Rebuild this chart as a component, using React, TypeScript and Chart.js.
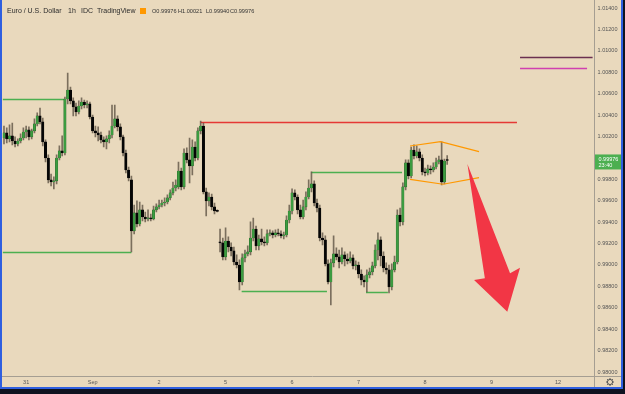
import React, { useEffect, useRef } from 'react';
import { Chart, registerables } from 'chart.js';
Chart.register(...registerables);

// ---- EUR/USD 1h candles (index 0 = Aug 30, 16:00) ----
const opens = [
  1.00186, 1.00233, 1.00177, 1.00205, 1.00158, 1.00130, 1.00158, 1.00186, 1.00242, 1.00261,
  1.00196, 1.00252, 1.00317, 1.00392, 1.00336, 1.00149, 0.99999, 0.99794, 0.99775, 0.99785,
  0.99999, 1.00065, 1.00046, 1.00550, 1.00634, 1.00532, 1.00476, 1.00429, 1.00485, 1.00522,
  1.00494, 1.00504, 1.00382, 1.00252, 1.00233, 1.00214, 1.00168, 1.00149, 1.00177, 1.00214,
  1.00298, 1.00364, 1.00289, 1.00196, 1.00046, 0.99887, 0.99794, 0.99318, 0.99486, 0.99383,
  0.99514, 0.99448, 0.99430, 0.99439, 0.99430, 0.99514, 0.99542, 0.99560, 0.99579, 0.99588,
  0.99626, 0.99673, 0.99719, 0.99729, 0.99878, 0.99729, 1.00046, 0.99981, 0.99925, 1.00102,
  0.99999, 1.00252, 1.00298, 0.99682, 0.99598, 0.99635, 0.99542, 0.99504, 0.99215, 0.99206,
  0.99075, 0.99224, 0.99168, 0.99131, 0.99028, 0.99000, 0.98841, 0.99066, 0.99103, 0.99122,
  0.99252, 0.99336, 0.99178, 0.99243, 0.99215, 0.99206, 0.99290, 0.99299, 0.99280, 0.99299,
  0.99290, 0.99271, 0.99280, 0.99420, 0.99504, 0.99673, 0.99635, 0.99514, 0.99448, 0.99542,
  0.99635, 0.99719, 0.99757, 0.99579, 0.99532, 0.99252, 0.99234, 0.99010, 0.98841, 0.99019,
  0.99103, 0.99075, 0.99028, 0.99094, 0.99056, 0.99038, 0.99066, 0.98991, 0.99000, 0.98916,
  0.98860, 0.98841, 0.98907, 0.98935, 0.98991, 0.99140, 0.99234, 0.99084, 0.98972, 0.98954,
  0.98795, 0.98954, 0.99028, 0.99467, 0.99402, 0.99729, 0.99953, 0.99831, 1.00074, 1.00018,
  1.00056, 0.99999, 0.99869, 0.99859, 0.99897, 0.99887, 0.99915, 0.99962, 0.99981, 0.99775,
  0.99976,
];
const highs = [
  1.00298, 1.00280, 1.00308, 1.00326, 1.00196, 1.00177, 1.00224, 1.00280, 1.00298, 1.00289,
  1.00270, 1.00364, 1.00420, 1.00466, 1.00373, 1.00168, 1.00028, 0.99850, 0.99822, 1.00028,
  1.00112, 1.00205, 1.00569, 1.00793, 1.00662, 1.00560, 1.00513, 1.00532, 1.00560, 1.00541,
  1.00532, 1.00522, 1.00401, 1.00298, 1.00289, 1.00242, 1.00196, 1.00205, 1.00252, 1.00494,
  1.00494, 1.00392, 1.00317, 1.00214, 1.00074, 0.99915, 0.99831, 0.99560, 0.99598, 0.99588,
  0.99560, 0.99495, 0.99514, 0.99476, 0.99551, 0.99570, 0.99607, 0.99607, 0.99626, 0.99654,
  0.99701, 0.99775, 0.99794, 0.99962, 0.99906, 1.00084, 1.00093, 1.00186, 1.00168, 1.00149,
  1.00280, 1.00345, 1.00326, 0.99719, 0.99673, 0.99663, 0.99579, 0.99514, 0.99336, 0.99252,
  0.99346, 0.99262, 0.99206, 0.99168, 0.99094, 0.99047, 0.99103, 0.99140, 0.99178, 0.99402,
  0.99439, 0.99364, 0.99280, 0.99336, 0.99262, 0.99327, 0.99327, 0.99318, 0.99327, 0.99336,
  0.99318, 0.99308, 0.99458, 0.99560, 0.99710, 0.99701, 0.99654, 0.99560, 0.99607, 0.99682,
  0.99794, 0.99869, 0.99785, 0.99616, 0.99560, 0.99299, 0.99271, 0.99047, 0.99056, 0.99271,
  0.99159, 0.99140, 0.99159, 0.99122, 0.99103, 0.99122, 0.99094, 0.99038, 0.99028, 0.98954,
  0.98898, 0.98954, 0.98972, 0.99028, 0.99187, 0.99299, 0.99262, 0.99122, 0.99019, 0.99000,
  0.99010, 0.99084, 0.99514, 0.99532, 0.99766, 0.99981, 0.99981, 1.00102, 1.00121, 1.00112,
  1.00084, 1.00028, 0.99906, 0.99934, 0.99925, 0.99953, 0.99999, 1.00018, 1.00149, 0.99990,
  1.00021,
];
const lows = [
  1.00130, 1.00140, 1.00149, 1.00121, 1.00102, 1.00112, 1.00140, 1.00168, 1.00186, 1.00168,
  1.00177, 1.00233, 1.00298, 1.00317, 1.00112, 0.99962, 0.99766, 0.99738, 0.99710, 0.99757,
  0.99981, 1.00018, 1.00028, 1.00504, 1.00504, 1.00392, 1.00392, 1.00410, 1.00457, 1.00466,
  1.00466, 1.00364, 1.00233, 1.00196, 1.00158, 1.00140, 1.00102, 1.00084, 1.00140, 1.00186,
  1.00280, 1.00252, 1.00168, 1.00018, 0.99859, 0.99785, 0.99122, 0.99290, 0.99355, 0.99364,
  0.99411, 0.99402, 0.99411, 0.99411, 0.99420, 0.99495, 0.99523, 0.99542, 0.99551, 0.99570,
  0.99607, 0.99654, 0.99691, 0.99710, 0.99701, 0.99710, 0.99953, 0.99766, 0.99841, 0.99971,
  0.99981, 1.00224, 0.99663, 0.99458, 0.99551, 0.99514, 0.99476, 0.99495, 0.99122, 0.99047,
  0.99047, 0.99122, 0.99084, 0.99000, 0.98972, 0.98767, 0.98813, 0.99028, 0.99084, 0.99094,
  0.99224, 0.99140, 0.99140, 0.99187, 0.99178, 0.99187, 0.99271, 0.99252, 0.99262, 0.99271,
  0.99252, 0.99243, 0.99262, 0.99392, 0.99476, 0.99607, 0.99476, 0.99430, 0.99430, 0.99514,
  0.99616, 0.99682, 0.99551, 0.99495, 0.99224, 0.99187, 0.98991, 0.98823, 0.98626, 0.98982,
  0.99047, 0.98972, 0.99010, 0.98991, 0.99010, 0.99019, 0.98963, 0.98954, 0.98879, 0.98813,
  0.98795, 0.98748, 0.98879, 0.98907, 0.98972, 0.99047, 0.98991, 0.98935, 0.98916, 0.98739,
  0.98767, 0.98935, 0.99010, 0.99364, 0.99374, 0.99701, 0.99803, 0.99813, 0.99990, 0.99999,
  0.99971, 0.99841, 0.99831, 0.99841, 0.99850, 0.99869, 0.99897, 0.99943, 0.99747, 0.99757,
  0.99940,
];
const closes = [
  1.00233, 1.00177, 1.00205, 1.00158, 1.00130, 1.00158, 1.00186, 1.00242, 1.00261, 1.00196,
  1.00252, 1.00317, 1.00392, 1.00336, 1.00149, 0.99999, 0.99794, 0.99775, 0.99785, 0.99999,
  1.00065, 1.00046, 1.00550, 1.00634, 1.00532, 1.00476, 1.00429, 1.00485, 1.00522, 1.00494,
  1.00504, 1.00382, 1.00252, 1.00233, 1.00214, 1.00168, 1.00149, 1.00177, 1.00214, 1.00298,
  1.00364, 1.00289, 1.00196, 1.00046, 0.99887, 0.99813, 0.99318, 0.99486, 0.99383, 0.99514,
  0.99448, 0.99430, 0.99439, 0.99430, 0.99514, 0.99542, 0.99560, 0.99579, 0.99588, 0.99626,
  0.99673, 0.99719, 0.99747, 0.99878, 0.99729, 1.00046, 0.99981, 0.99925, 1.00102, 0.99999,
  1.00252, 1.00298, 0.99682, 0.99598, 0.99635, 0.99542, 0.99504, 0.99500, 0.99206, 0.99075,
  0.99224, 0.99168, 0.99131, 0.99028, 0.99000, 0.98841, 0.99066, 0.99103, 0.99122, 0.99252,
  0.99336, 0.99178, 0.99243, 0.99215, 0.99206, 0.99290, 0.99299, 0.99280, 0.99299, 0.99290,
  0.99271, 0.99280, 0.99420, 0.99504, 0.99673, 0.99635, 0.99514, 0.99448, 0.99542, 0.99635,
  0.99719, 0.99757, 0.99579, 0.99532, 0.99252, 0.99234, 0.99010, 0.98841, 0.99019, 0.99103,
  0.99075, 0.99028, 0.99094, 0.99056, 0.99038, 0.99066, 0.98991, 0.99000, 0.98916, 0.98860,
  0.98841, 0.98907, 0.98935, 0.98991, 0.99140, 0.99234, 0.99084, 0.98972, 0.98954, 0.98795,
  0.98954, 0.99028, 0.99467, 0.99402, 0.99729, 0.99953, 0.99831, 1.00074, 1.00018, 1.00056,
  0.99999, 0.99869, 0.99859, 0.99897, 0.99887, 0.99915, 0.99962, 0.99981, 0.99775, 0.99971,
  0.99976,
];

// ---- time axis ----
const slotCount = 213;
const dayTickIndex = [8, 32, 56, 80, 104, 128, 152, 176, 200];
const dayTickLabels = ['31', 'Sep', '2', '5', '6', '7', '8', '9', '12'];

// ---- price axis ----
const priceTicks = [0.98, 0.982, 0.984, 0.986, 0.988, 0.99, 0.992, 0.994, 0.996, 0.998, 1.0, 1.002, 1.004, 1.006, 1.008, 1.01, 1.012, 1.014];
const priceMin = 0.97963;
const priceMax = 1.01456;

// ---- drawings (bar index, price) ----
const levelLines = [
  { from: -0.5, to: 22, price: 1.0055, color: '#4caf50' },
  { from: -0.5, to: 46, price: 0.99122, color: '#4caf50' },
  { from: 71, to: 185.2, price: 1.00339, color: '#e53935' },
  { from: 111, to: 143.7, price: 0.99864, color: '#4caf50' },
  { from: 85.8, to: 116.6, price: 0.9876, color: '#4caf50' },
  { from: 130.7, to: 138.6, price: 0.9875, color: '#4caf50' },
  { from: 186.3, to: 212.5, price: 1.00943, color: '#6b3050' },
  { from: 186.3, to: 210.5, price: 1.0084, color: '#d040b0' },
];
const channelTop = [[146.6, 1.00111], [157.6, 1.00151], [171.5, 1.00058]];
const channelBottom = [[146.6, 0.998], [158.5, 0.99754], [171.5, 0.99815]];
const arrowShape = [[167.3, 0.99943], [182.7, 0.98922], [186.3, 0.98975], [181.7, 0.98564], [169.7, 0.9886], [173.6, 0.98876]];

const slotLabels: string[] = Array.from({ length: slotCount }, () => '');
dayTickIndex.forEach((idx, k) => { slotLabels[idx] = dayTickLabels[k]; });

const BG = '#e9d9bd';
const GREEN = '#3c9c40';
const FONT = '"Liberation Sans", Arial, sans-serif';

const tvPlugin = {
  id: 'tvDecor',
  beforeDraw(chart: any) {
    const { ctx, width, height } = chart;
    ctx.save();
    ctx.fillStyle = BG;
    ctx.fillRect(0, 0, width, height);
    ctx.restore();
  },
  beforeDatasetsDraw(chart: any) {
    const { ctx, chartArea } = chart;
    const xs = chart.scales.x;
    const ys = chart.scales.y;
    ctx.save();
    ctx.beginPath();
    ctx.rect(chartArea.left, chartArea.top, chartArea.right - chartArea.left + 2, chartArea.bottom - chartArea.top);
    ctx.clip();
    levelLines.forEach((l) => {
      const y = Math.round(ys.getPixelForValue(l.price)) + 0.5;
      ctx.strokeStyle = l.color;
      ctx.lineWidth = 1.3;
      ctx.beginPath();
      ctx.moveTo(xs.getPixelForValue(l.from), y);
      ctx.lineTo(xs.getPixelForValue(l.to), y);
      ctx.stroke();
    });
    ctx.restore();
  },
  afterDatasetsDraw(chart: any) {
    const { ctx } = chart;
    const xs = chart.scales.x;
    const ys = chart.scales.y;
    const P = (p: number[]) => [xs.getPixelForValue(p[0]), ys.getPixelForValue(p[1])];
    ctx.save();
    ctx.strokeStyle = '#ff9800';
    ctx.lineWidth = 1.2;
    [channelTop, channelBottom].forEach((pts) => {
      ctx.beginPath();
      pts.forEach((pt, k) => {
        const [x, y] = P(pt);
        if (k === 0) ctx.moveTo(x, y); else ctx.lineTo(x, y);
      });
      ctx.stroke();
    });
    ctx.fillStyle = '#f23645';
    ctx.beginPath();
    arrowShape.forEach((pt, k) => {
      const [x, y] = P(pt);
      if (k === 0) ctx.moveTo(x, y); else ctx.lineTo(x, y);
    });
    ctx.closePath();
    ctx.fill();
    ctx.restore();
  },
  afterDraw(chart: any) {
    const { ctx, chartArea, width, height } = chart;
    const ys = chart.scales.y;
    ctx.save();
    // separators
    ctx.strokeStyle = '#a59e92';
    ctx.lineWidth = 1;
    const sx = Math.round(chartArea.right) + 1.5;
    const sy = Math.round(chartArea.bottom) + 0.5;
    ctx.beginPath();
    ctx.moveTo(sx, 0); ctx.lineTo(sx, height);
    ctx.moveTo(0, sy); ctx.lineTo(width, sy);
    ctx.stroke();

    // last price box
    const last = closes.length - 1;
    const py = ys.getPixelForValue(closes[last]);
    ctx.fillStyle = '#4caf50';
    ctx.fillRect(sx + 0.5, py - 6, 28, 15);
    ctx.fillStyle = '#ffffff';
    ctx.textBaseline = 'middle';
    ctx.textAlign = 'left';
    ctx.font = '5.5px ' + FONT;
    ctx.fillText(closes[last].toFixed(5), sx + 4, py - 1);
    ctx.fillText('23:40', sx + 4, py + 5);

    // header
    ctx.fillStyle = '#2b2b2b';
    ctx.font = '7px ' + FONT;
    ctx.fillText('Euro / U.S. Dollar', 7, 11);
    ctx.fillText('1h', 68, 11);
    ctx.fillText('IDC', 81, 11);
    ctx.fillText('TradingView', 97, 11);
    ctx.fillStyle = '#ff9800';
    ctx.fillRect(140, 8, 6, 6);
    ctx.fillStyle = '#333333';
    ctx.font = '5.6px ' + FONT;
    ctx.fillText('O' + opens[last].toFixed(5), 152, 11);
    ctx.fillText('H' + highs[last].toFixed(5), 178, 11);
    ctx.fillText('L' + lows[last].toFixed(5), 206, 11);
    ctx.fillText('C' + closes[last].toFixed(5), 230, 11);

    // gear
    ctx.strokeStyle = '#555';
    ctx.lineWidth = 1;
    ctx.beginPath();
    ctx.arc(610, 382, 2.6, 0, Math.PI * 2);
    ctx.stroke();
    for (let k = 0; k < 8; k++) {
      const a = (k * Math.PI) / 4;
      ctx.beginPath();
      ctx.moveTo(610 + Math.cos(a) * 2.6, 382 + Math.sin(a) * 2.6);
      ctx.lineTo(610 + Math.cos(a) * 4, 382 + Math.sin(a) * 4);
      ctx.stroke();
    }

    // frame
    ctx.fillStyle = '#0f1320';
    ctx.fillRect(0, 389, width, height - 389);
    ctx.fillRect(623, 0, width - 623, height);
    ctx.fillStyle = '#2f5fe0';
    ctx.fillRect(0, 0, 2, 389);
    ctx.fillRect(621, 0, 2, 389);
    ctx.fillRect(0, 387, 623, 2);
    ctx.restore();
  },
};

export default function App() {
  const ref = useRef<HTMLCanvasElement>(null);
  useEffect(() => {
    if (!ref.current) return;
    const bodies = opens.map((o, i) => [o, closes[i]]);
    const wicks = lows.map((l, i) => [l, highs[i]]);
    const bodyColors = opens.map((o, i) => (closes[i] > o ? GREEN : '#050505'));
    const bodyBorders = opens.map((o, i) => (closes[i] > o ? '#1f5e22' : '#050505'));
    const chart = new Chart(ref.current, {
      type: 'bar',
      data: {
        labels: slotLabels,
        datasets: [
          {
            label: 'wick',
            data: wicks as any,
            backgroundColor: 'rgba(85,75,62,0.75)',
            barThickness: 1,
            grouped: false,
            order: 2,
          } as any,
          {
            label: 'body',
            data: bodies as any,
            backgroundColor: bodyColors,
            borderColor: bodyBorders,
            borderWidth: 0.4,
            borderSkipped: false,
            barThickness: 2.4,
            minBarLength: 1,
            grouped: false,
            order: 1,
          } as any,
        ],
      },
      options: {
        responsive: false,
        animation: false,
        events: [],
        layout: { padding: { left: 2.6, top: 2, right: 0, bottom: 0 } },
        plugins: { legend: { display: false }, tooltip: { enabled: false } },
        scales: {
          x: {
            type: 'category',
            grid: { display: false, drawTicks: false },
            border: { display: false },
            ticks: {
              autoSkip: false,
              maxRotation: 0,
              padding: 3.5,
              color: '#555555',
              font: { family: FONT, size: 5.5 },
              callback: (_v: any, i: number) => slotLabels[i],
            },
            afterFit: (s: any) => { s.height = 18; s.paddingLeft = 0; s.paddingRight = 0; },
          },
          y: {
            type: 'linear',
            position: 'right',
            min: priceMin,
            max: priceMax,
            grid: { display: false, drawTicks: false },
            border: { display: false },
            afterBuildTicks: (s: any) => { s.ticks = priceTicks.map((v) => ({ value: v })); },
            ticks: {
              padding: 5,
              color: '#555555',
              font: { family: FONT, size: 5.5 },
              callback: (v: any) => Number(v).toFixed(5),
            },
            afterFit: (s: any) => { s.width = 32.4; s.paddingTop = 0; s.paddingBottom = 0; },
          },
        },
      },
      plugins: [tvPlugin],
    });
    return () => chart.destroy();
  }, []);
  return (
    <div style={{ position: 'fixed', left: 0, top: 0, width: 625, height: 394 }}>
      <canvas ref={ref} width={625} height={394} style={{ display: 'block' }} />
    </div>
  );
}
